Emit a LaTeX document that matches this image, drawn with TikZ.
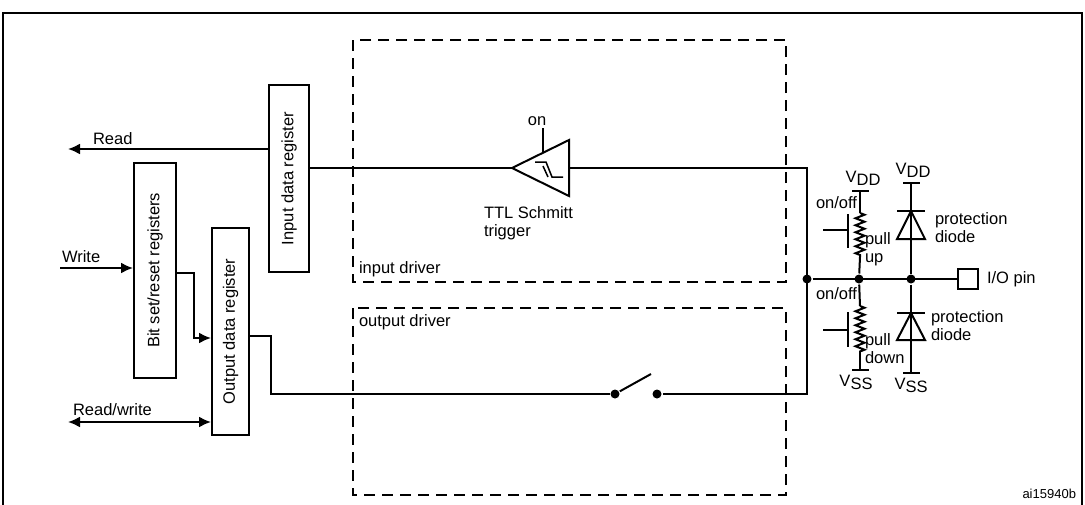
\documentclass[tikz,border=0pt]{standalone}
\usepackage{fontspec}
\setmainfont{Liberation Sans}
\usetikzlibrary{decorations.pathmorphing,arrows.meta}
\begin{document}
\begin{tikzpicture}[x=1pt,y=-1pt,line width=2pt,
  lbl/.style={inner sep=0pt,font=\fontsize{16.5}{18}\selectfont},
  reg/.style={draw,rotate=90,inner sep=0pt,font=\fontsize{16.5}{18}\selectfont,line width=2pt},
  dsh/.style={dash pattern=on 11pt off 7pt,line width=2pt},
  dot/.style={circle,fill,inner sep=0pt,minimum size=9pt},
  arr/.style={-{Latex[length=12pt,width=11pt]}},
  res/.style={decorate,decoration={zigzag,amplitude=4.5pt,segment length=7pt}}]
\useasboundingbox (0,0) rectangle (1085,504);
\draw[line width=2.2pt] (3,520) -- (3,13) -- (1082,13) -- (1082,520);
% dashed boxes
\draw[dsh] (353,40) rectangle (786,282);
\draw[dsh] (353,308) rectangle (786,495);
\node[lbl,anchor=south west] (lin) at (358,278) {input driver};
\node[lbl,anchor=north west] (lout) at (358,314) {output driver};
% registers
\node[reg,minimum width=187pt,minimum height=40pt] (inreg) at (289,178.5) {Input data register};
\node[reg,minimum width=215pt,minimum height=42pt] (bsr) at (155,270.5) {Bit set/reset registers};
\node[reg,minimum width=207pt,minimum height=37pt] (outreg) at (230.5,331.5) {Output data register};
\coordinate (readend) at (68,149);
\draw[arr] (inreg.north |- readend) -- (readend);
\node[lbl,anchor=south west] (lread) at (92,146) {Read};
\coordinate (writestart) at (60,268);
\draw[arr] (writestart) -- (bsr.north |- writestart);
\node[lbl,anchor=south west] (lwrite) at (61,264) {Write};
\coordinate (bs1) at (194,273);
\draw[arr] (bsr.south |- bs1) -- (bs1) -- (194,338) -- (outreg.north |- 0,338);
\coordinate (rwend) at (68,422);
\draw[{Latex[length=12pt,width=11pt]}-{Latex[length=12pt,width=11pt]}] (rwend) -- (outreg.north |- rwend);
\node[lbl,anchor=south west] (lrw) at (72,417) {Read/write};
% schmitt trigger
\coordinate (tip) at (512,168);
\draw (inreg.south |- tip) -- (tip);
\draw (tip) -- (569,140) -- (569,196) -- cycle;
\draw (543,153) -- (543,128);
\node[lbl,anchor=south] (lon) at (537,127) {on};
\draw[line width=1.5pt] (535,162) -- (546,162) -- (552,177) -- (563,177);
\draw[line width=1.5pt] (543,166) -- (548,177);
\node[lbl,align=left,anchor=north west] (lttl) at (483,206) {TTL Schmitt\\trigger};
% switch
\node[dot] (s1) at (615,394) {};
\node[dot] (s2) at (657,394) {};
\draw (outreg.south |- 0,336) -- (271,336) -- (271,394) -- (s1);
\draw (s1) -- (651,374);
\coordinate (rt) at (807,168);
\draw (569,168) -- (rt) -- (807,394) -- (s2);
% io line
\node[dot] (j1) at (807,279) {};
\node[dot] (j2) at (859,279) {};
\node[dot] (j3) at (911,279) {};
\node[draw,minimum size=20pt,inner sep=0pt] (pin) at (968,279) {};
\draw (j1) -- (pin);
\node[lbl,anchor=west] (lpin) at (986,279) {I/O pin};
% pull up
\draw (852,191) -- (869,191);
\draw (860,191) -- (860,213);
\draw[res] (860,213) -- (860,257);
\draw (860,257) -- (j2);
\draw (848,214) -- (848,248);
\draw (823,230) -- (848,230);
\node[lbl,anchor=south] (lvdd1) at (863,186) {V\raisebox{-3pt}{DD}};
\node[lbl,anchor=east] (lonoff1) at (858,203) {on/off};
\node[lbl,align=left,anchor=west] (lpu) at (864,249) {pull\\up};
% pull down
\draw (j2) -- (860,306);
\draw[res] (860,306) -- (860,352);
\draw (860,352) -- (860,370);
\draw (852,370) -- (869,370);
\draw (848,312) -- (848,347);
\draw (823,330) -- (848,330);
\node[lbl,anchor=north] (lvss1) at (856,374) {V\raisebox{-3pt}{SS}};
\node[lbl,anchor=east] (lonoff2) at (858,294) {on/off};
\node[lbl,align=left,anchor=west] (lpd) at (864,349) {pull\\down};
% diodes
\draw (903,183) -- (920,183);
\draw (911,183) -- (j3);
\draw (897,211) -- (925,211);
\draw (911,211) -- (897,239) -- (925,239) -- cycle;
\node[lbl,anchor=south] (lvdd2) at (913,178) {V\raisebox{-3pt}{DD}};
\node[lbl,align=left,anchor=west] (lpd1) at (934,228) {protection\\diode};
\draw (j3) -- (911,373);
\draw (903,373) -- (920,373);
\draw (897,313) -- (925,313);
\draw (911,313) -- (897,340) -- (925,340) -- cycle;
\node[lbl,anchor=north] (lvss2) at (911,377) {V\raisebox{-3pt}{SS}};
\node[lbl,align=left,anchor=west] (lpd2) at (930,326) {protection\\diode};
\node[lbl,font=\fontsize{13}{14}\selectfont,anchor=south east] (lref) at (1077,500) {ai15940b};
\end{tikzpicture}
\end{document}
